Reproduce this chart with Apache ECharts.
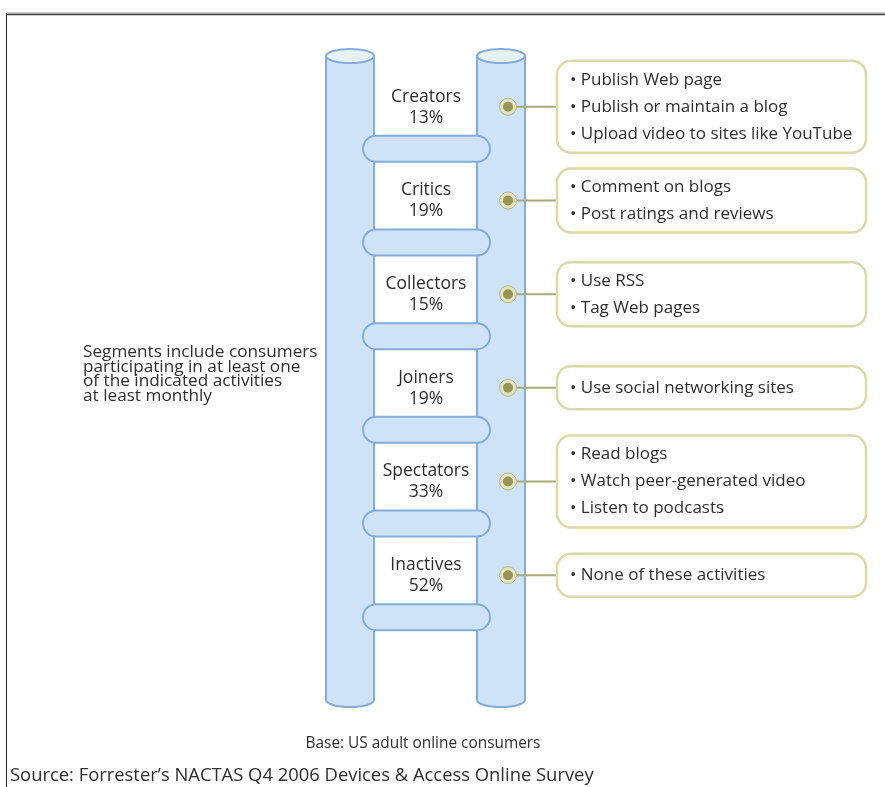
<!DOCTYPE html>
<html><head><meta charset="utf-8">
<script src="https://cdn.jsdelivr.net/npm/echarts@6/dist/echarts.min.js"></script>
<style>html,body{margin:0;padding:0;background:#fff}#c{width:885px;height:787px}</style>
</head><body><div id="c"></div>
<script>
const segments = ['Creators', 'Critics', 'Collectors', 'Joiners', 'Spectators', 'Inactives'];
const shares = [13, 19, 15, 19, 33, 52];
const activities = [
  ['Publish Web page', 'Publish or maintain a blog', 'Upload video to sites like YouTube'],
  ['Comment on blogs', 'Post ratings and reviews'],
  ['Use RSS', 'Tag Web pages'],
  ['Use social networking sites'],
  ['Read blogs', 'Watch peer-generated video', 'Listen to podcasts'],
  ['None of these activities']
];
const noteLines = ['Segments include consumers', 'participating in at least one', 'of the indicated activities', 'at least monthly'];
const baseText = 'Base: US adult online consumers';
const sourceText = "Source: Forrester\u2019s NACTAS Q4 2006 Devices & Access Online Survey";

const FONT = '"Open Sans"';
const TXT = '#2e2e2e';
const RAIL_FILL = '#cfe3f8';
const RAIL_TOP = '#e6f1fc';
const RAIL_STROKE = '#84acdb';
const OLIVE = '#969658';
const BOX_STROKE = '#d9d9a9';

const chart = echarts.init(document.getElementById('c'), null, {renderer: 'canvas'});

function railsRender(params, api) {
  const children = [];
  [326, 477].forEach(function (x0) {
    const x1 = x0 + 48, rx = 24, ry = 7, top = 56, bot = 700;
    children.push({
      type: 'path',
      shape: {pathData: 'M' + x0 + ' ' + top + ' L' + x0 + ' ' + bot + ' A' + rx + ' ' + ry + ' 0 0 0 ' + x1 + ' ' + bot + ' L' + x1 + ' ' + top + ' Z'},
      style: {fill: RAIL_FILL, stroke: RAIL_STROKE, lineWidth: 2}
    });
    children.push({
      type: 'path',
      shape: {pathData: 'M' + x0 + ' ' + top + ' A' + rx + ' ' + ry + ' 0 1 0 ' + x1 + ' ' + top + ' A' + rx + ' ' + ry + ' 0 1 0 ' + x0 + ' ' + top + ' Z'},
      style: {fill: RAIL_TOP, stroke: RAIL_STROKE, lineWidth: 2}
    });
  });
  return {type: 'group', children: children};
}

function rowRender(params, api) {
  const idx = api.value(0);
  const cy = api.coord([0, idx])[1];
  const lines = activities[idx];
  const lineH = 27;
  const boxH = lines.length === 1 ? 43 : (lines.length === 2 ? 64 : 92);
  const boxX = 557, boxW = 309;
  const children = [];
  children.push({
    type: 'rect',
    shape: {x: 363, y: cy + 42 - 13, width: 127, height: 26, r: 13},
    style: {fill: RAIL_FILL, stroke: RAIL_STROKE, lineWidth: 2}
  });
  children.push({
    type: 'text',
    style: {text: segments[idx], x: 426, y: cy - 10, align: 'center', verticalAlign: 'middle',
      font: '17.5px ' + FONT, fill: TXT}
  });
  children.push({
    type: 'text',
    style: {text: api.value(1) + '%', x: 426, y: cy + 11, align: 'center', verticalAlign: 'middle',
      font: '17.5px ' + FONT, fill: TXT}
  });
  children.push({
    type: 'line',
    shape: {x1: 508, y1: cy, x2: boxX, y2: cy},
    style: {stroke: '#a9a97a', lineWidth: 2}
  });
  children.push({type: 'circle', shape: {cx: 508, cy: cy, r: 8.5}, style: {fill: '#e3e3c0', stroke: '#b4b48a', lineWidth: 1}});
  children.push({type: 'circle', shape: {cx: 508, cy: cy, r: 5}, style: {fill: OLIVE}});
  children.push({
    type: 'rect',
    shape: {x: boxX, y: cy - boxH / 2, width: boxW, height: boxH, r: 14},
    style: {fill: '#fff', stroke: BOX_STROKE, lineWidth: 2.5}
  });
  const firstY = cy - (lines.length - 1) * lineH / 2;
  lines.forEach(function (t, i) {
    children.push({
      type: 'text',
      style: {text: '\u2022 ' + t, x: 570, y: firstY + i * lineH, align: 'left', verticalAlign: 'middle',
        font: '17px ' + FONT, fill: TXT}
    });
  });
  return {type: 'group', children: children};
}

const option = {
  backgroundColor: '#fff',
  animation: false,
  grid: {left: 0, top: 60, width: 885, height: 562},
  xAxis: {type: 'value', min: 0, max: 885, show: false},
  yAxis: {type: 'category', data: segments, inverse: true, show: false},
  graphic: [
    {type: 'line', shape: {x1: 6, y1: 13, x2: 885, y2: 13}, style: {stroke: '#9a9a9a', lineWidth: 1}},
    {type: 'line', shape: {x1: 6, y1: 14.5, x2: 885, y2: 14.5}, style: {stroke: '#444', lineWidth: 1.5}},
    {type: 'line', shape: {x1: 6.5, y1: 13, x2: 6.5, y2: 787}, style: {stroke: '#222', lineWidth: 1}},
    {type: 'group', children: noteLines.map(function (t, i) {
      return {type: 'text', style: {text: t, x: 83, y: 352 + i * 14.7, verticalAlign: 'middle', font: '17.2px ' + FONT, fill: TXT}};
    })},
    {type: 'text', style: {text: baseText, x: 423, y: 744, align: 'center', verticalAlign: 'middle', font: '15.4px ' + FONT, fill: TXT}},
    {type: 'text', style: {text: sourceText, x: 10, y: 776, verticalAlign: 'middle', font: '18.4px ' + FONT, fill: TXT}}
  ],
  series: [
    {type: 'custom', name: 'rails', coordinateSystem: 'none', z: 1, renderItem: railsRender, data: [[0]], silent: true},
    {type: 'custom', name: 'segments', z: 3, renderItem: rowRender, silent: true,
      data: segments.map(function (s, i) { return [i, shares[i]]; }),
      encode: {y: 0}}
  ]
};
chart.setOption(option);
</script></body></html>
